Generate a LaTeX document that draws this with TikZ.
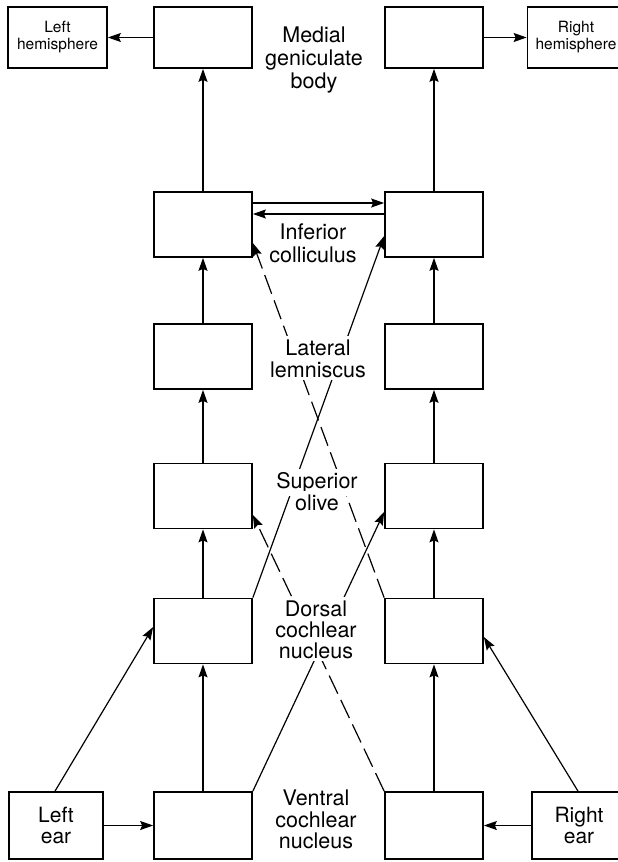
\documentclass[tikz,border=0pt]{standalone}
\usepackage{fontspec}
\setmainfont{TeX Gyre Heros}
\usetikzlibrary{arrows.meta}
\begin{document}
\begin{tikzpicture}[x=1pt,y=-1pt,
  box/.style={draw, line width=1.7pt, minimum width=98pt, minimum height=65pt, inner sep=0pt, align=center},
  smalltxt/.style={font=\fontsize{15.5}{17}\selectfont},
  eartxt/.style={font=\fontsize{21}{20.5}\selectfont},
  arr/.style={line width=1.2pt, -{Stealth[length=13pt,width=9pt,inset=2pt]}},
  dsh/.style={arr, dash pattern=on 20pt off 7pt},
  lbl/.style={font=\fontsize{21.5}{22}\selectfont, anchor=base, fill=white, inner xsep=3pt, inner ysep=3pt}
]
\useasboundingbox (0,0) rectangle (618,862);
\clip (0,0) rectangle (618,862);

% boxes
\node[box, minimum height=61pt] (mgbL) at (203,37.5) {};
\node[box, minimum height=61pt] (mgbR) at (434,37.5) {};
\node[box, minimum width=99pt, minimum height=61pt, smalltxt] (hemL) at (57.5,37.5) {Left\\hemisphere};
\node[box, minimum width=97pt, minimum height=61pt, smalltxt] (hemR) at (576,37.5) {Right\\hemisphere};

\node[box] (icL) at (203,224.5) {};
\node[box] (icR) at (434,224.5) {};
\node[box] (llL) at (203,356.5) {};
\node[box] (llR) at (434,356.5) {};
\node[box] (soL) at (203,496) {};
\node[box] (soR) at (434,496) {};
\node[box] (dcL) at (203,631) {};
\node[box] (dcR) at (434,631) {};
\node[box, minimum height=67pt] (vcL) at (203,825.5) {};
\node[box, minimum height=67pt] (vcR) at (434,825.5) {};
\node[box, minimum width=94pt, minimum height=67pt, eartxt] (earL) at (56,825.5) {Left\\ear};
\node[box, minimum width=94pt, minimum height=67pt, eartxt] (earR) at (579,825.5) {Right\\ear};

% vertical pathways
\foreach \s in {L,R}{
  \draw[arr] (vc\s) -- (dc\s);
  \draw[arr] (dc\s) -- (so\s);
  \draw[arr] (so\s) -- (ll\s);
  \draw[arr] (ll\s) -- (ic\s);
  \draw[arr] (ic\s) -- (mgb\s);
}

% horizontal
\draw[arr] (mgbL) -- (hemL);
\draw[arr] (mgbR) -- (hemR);
\draw[arr] (earL) -- (vcL);
\draw[arr] (earR) -- (vcR);
\draw[arr] ([yshift=21.5pt]icL.east) -- ([yshift=21.5pt]icR.west);
\draw[arr] ([yshift=10.5pt]icR.west) -- ([yshift=10.5pt]icL.east);

% diagonals
\draw[arr] ([xshift=-1pt]earL.north) -- ([yshift=4pt]dcL.west);
\draw[arr] ([xshift=-1pt]earR.north) -- ([yshift=-6pt]dcR.east);
\draw[arr] (vcL.north east) -- ([yshift=-16pt]soR.west);
\draw[arr] (dcL.north east) -- ([yshift=-11.5pt]icR.west);
\draw[dsh] (vcR.north west) -- ([yshift=-19pt]soL.east);
\draw[dsh] (dcR.north west) -- ([yshift=-18.5pt]icL.east);

% labels
\node[lbl] (mg1) at (314,42) {Medial};
\node[lbl] (mg2) at (314,65) {geniculate};
\node[lbl] (mg3) at (314,88) {body};
\node[lbl] (ic1) at (313,239) {Inferior};
\node[lbl] (ic2) at (313,262) {colliculus};
\node[lbl] (ll1) at (318,355) {Lateral};
\node[lbl] (ll2) at (318,377) {lemniscus};
\node[lbl] (so1) at (317,488) {Superior};
\node[lbl] (so2) at (317,510) {olive};
\node[lbl] (dc1) at (316,616) {Dorsal};
\node[lbl] (dc2) at (316,637) {cochlear};
\node[lbl] (dc3) at (316,658) {nucleus};
\node[lbl] (vc1) at (316,805) {Ventral};
\node[lbl] (vc2) at (316,827) {cochlear};
\node[lbl] (vc3) at (316,848) {nucleus};
\end{tikzpicture}
\end{document}
